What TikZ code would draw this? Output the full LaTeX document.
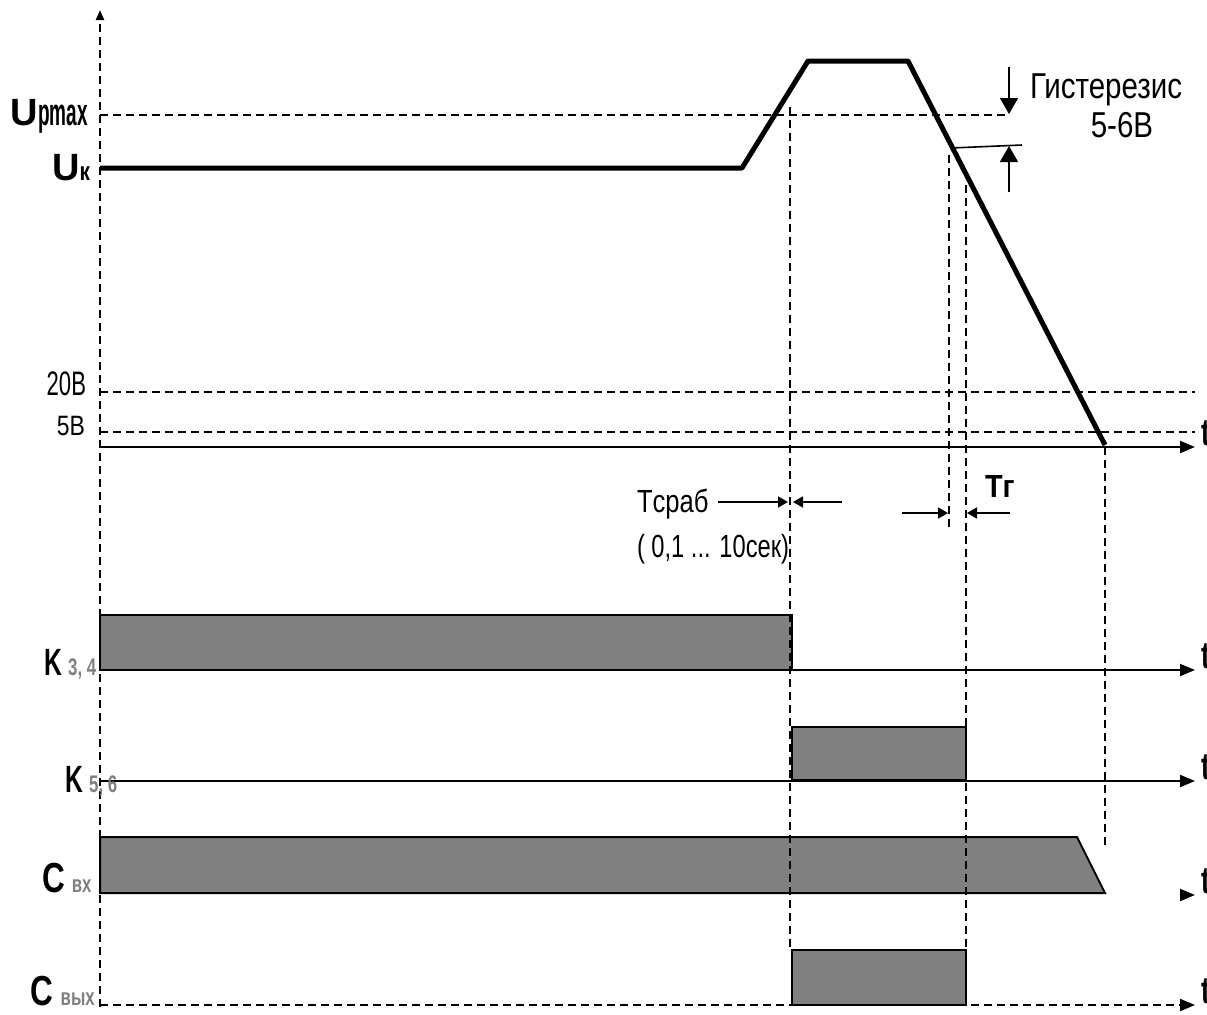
\documentclass[tikz,border=0pt]{standalone}
\usepackage{fontspec}
\setmainfont{Liberation Sans}
\usepackage{graphicx}
\usetikzlibrary{arrows.meta}
\definecolor{barfill}{RGB}{128,128,128}
\newcommand{\cond}[2][0.6]{\scalebox{#1}[1]{#2}}
\newcommand{\subg}[1]{{\fontsize{12}{12}\selectfont\color{gray}\cond[0.7]{#1}}}

\begin{document}
\begin{tikzpicture}[x=0.5pt, y=-0.5pt,
  every node/.style={inner sep=0pt, outer sep=0pt},
  sig/.style={line width=2.5pt, line join=round},
  axis/.style={line width=1pt, -{Triangle[length=7.5pt,width=6pt]}},
  guide/.style={line width=1pt, dash pattern=on 4pt off 2.5pt},
  bar/.style={draw, line width=1pt, fill=barfill},
  dim/.style={line width=0.8pt, -{Triangle[length=5pt,width=5.5pt]}},
  hyst/.style={line width=0.8pt, -{Triangle[length=8pt,width=9pt]}},
  lbl/.style={font=\fontsize{19}{19}\selectfont\bfseries},
  txt/.style={font=\fontsize{18}{18}\selectfont}]
\useasboundingbox (0,0) rectangle (1207,1014);

% bars
\draw[bar] (100,615) rectangle (792,670);
\draw[bar] (792,727) rectangle (966,780);
\draw[bar] (100,837) -- (1077,837) -- (1105,893) -- (100,893) -- cycle;
\draw[bar] (792,950) rectangle (966,1005);

% levels and guides
\draw[guide, -{Triangle[length=5pt,width=4pt]}] (100,1007) -- (100,10);
\draw[guide] (100,115) -- (1008,115);
\draw[guide] (100,392) -- (1195,392);
\draw[guide] (100,432) -- (1195,432);
\draw[guide] (790,107) -- (790,950);
\draw[guide] (949,155) -- (949,528);
\draw[guide] (966,185) -- (966,950);
\draw[guide] (1105,447) -- (1105,849);

% time axes
\draw[axis] (100,447) -- (1195,447);
\draw[axis] (100,670) -- (1195,670);
\draw[axis] (100,781) -- (1195,781);
\draw[axis] (1183,895) -- (1195,895);
\draw[axis, dash pattern=on 4pt off 2.5pt] (100,1005) -- (1195,1005);
\foreach \ty/\tn in {447/t1, 670/t2, 781/t3, 895/t4, 1005/t5}
  \node[lbl, anchor=base west] (\tn) at (1201,\ty-2) {\cond[0.7]{t}};

% voltage
\draw[sig] (100,168) -- (742,168) -- (808,61) -- (908,61) -- (1105,445);

% hysteresis
\draw[line width=0.8pt] (951,148) -- (1022,145);
\draw[hyst] (1009,67) -- (1009,114);
\draw[hyst] (1009,192) -- (1009,146);
\node[txt, anchor=base west] (hys) at (1030,98) {\cond[0.82]{Гистерезис}};
\node[txt, anchor=base] (hysv) at (1122,137) {\cond[0.82]{5-6В}};

% times
\draw[dim] (718,502) -- (788,502);
\draw[dim] (842,502) -- (793,502);
\node[txt, anchor=base west] (tsrab) at (637,512) {\fontsize{16}{16}\selectfont\cond[0.8]{Tсраб}};
\node[txt, anchor=base west] (trange) at (637,557) {\fontsize{16}{16}\selectfont\cond[0.74]{( 0,1 ... 10сек)}};
\draw[dim] (902,513) -- (948,513);
\draw[dim] (1010,513) -- (967,513);
\node[lbl, anchor=base west] (tg) at (985,497) {\fontsize{16}{16}\selectfont\cond[0.9]{Tг}};

% level labels
\node[lbl, anchor=base east] (upmax) at (88,125) {U\cond[0.5]{pmax}};
\node[lbl, anchor=base east] (uk) at (90,180) {U{\fontsize{13}{13}\selectfont\cond[0.8]{к}}};
\node[txt, anchor=base east] (v20) at (86,395) {\fontsize{17}{17}\selectfont\cond[0.65]{20В}};
\node[txt, anchor=base east] (v5) at (85,435) {\fontsize{14}{14}\selectfont\cond[0.82]{5В}};

% channel labels
\node[lbl, anchor=base west] (k34) at (44,675) {\cond[0.65]{K}\,\subg{3, 4}};
\node[lbl, anchor=base west] (k56) at (65,792) {\cond[0.65]{K}\,\subg{5, 6}};
\node[lbl, anchor=base west] (cvh) at (42,892) {\fontsize{21}{21}\selectfont\cond[0.75]{C}\,\subg{вх}};
\node[lbl, anchor=base west] (cvyh) at (31,1005) {\fontsize{21}{21}\selectfont\cond[0.75]{C}\,\subg{вых}};
\end{tikzpicture}
\end{document}
